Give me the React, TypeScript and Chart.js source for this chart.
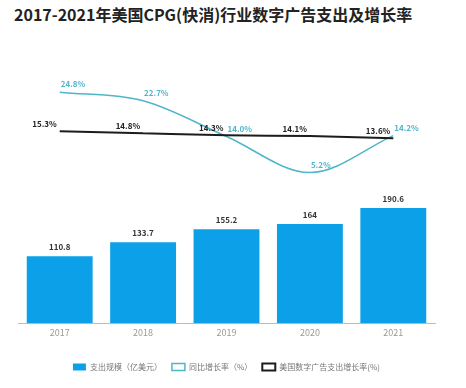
import React, { useEffect, useRef } from 'react';
import { Chart, registerables } from 'chart.js';

Chart.register(...registerables);

const years = ['2017', '2018', '2019', '2020', '2021'];
const spend = [110.8, 133.7, 155.2, 164, 190.6];
const cpgGrowth = [24.8, 22.7, 14.0, 5.2, 14.2];
const totalGrowth = [15.3, 14.8, 14.3, 14.1, 13.6];
const legendNames = ['支出规模（亿美元）', '同比增长率（%）', '美国数字广告支出增长率(%)'];

const BAR = 'rgb(12,160,232)';
const CYAN = '#4fb6c9';
const BLACK = '#1c1c1c';
const FONT = '"Noto Sans CJK SC", "Noto Sans", sans-serif';

const labelPlugin = {
  id: 'valueLabels',
  afterDatasetsDraw(chart: any) {
    const ctx = chart.ctx;
    ctx.save();
    ctx.font = `bold 8px ${FONT}`;
    ctx.textBaseline = 'bottom';
    chart.data.datasets.forEach((ds: any, i: number) => {
      const meta = chart.getDatasetMeta(i);
      meta.data.forEach((el: any, j: number) => {
        const v = ds.data[j];
        if (i === 0) {
          ctx.fillStyle = '#333';
          ctx.textAlign = 'center';
          ctx.fillText(String(v), el.x, el.y - 5);
        } else if (i === 1) {
          ctx.fillStyle = CYAN;
          ctx.textAlign = 'left';
          ctx.fillText(v.toFixed(1) + '%', el.x + 1, el.y - 4);
        } else {
          ctx.fillStyle = '#222';
          ctx.textAlign = 'right';
          ctx.fillText(v.toFixed(1) + '%', el.x - 3, el.y - 3);
        }
      });
    });
    ctx.restore();
  },
};

export default function App() {
  const ref = useRef<HTMLCanvasElement | null>(null);

  useEffect(() => {
    if (!ref.current) return;
    const chart = new Chart(ref.current, {
      type: 'bar',
      data: {
        labels: years,
        datasets: [
          {
            type: 'bar',
            label: legendNames[0],
            data: spend,
            backgroundColor: BAR,
            borderWidth: 0,
            barPercentage: 0.79,
            categoryPercentage: 1,
            yAxisID: 'y',
            order: 2,
          },
          {
            type: 'line',
            label: legendNames[1],
            data: cpgGrowth,
            borderColor: CYAN,
            backgroundColor: '#fff',
            borderWidth: 1.5,
            pointRadius: 0,
            cubicInterpolationMode: 'monotone',
            yAxisID: 'y2',
            order: 1,
          },
          {
            type: 'line',
            label: legendNames[2],
            data: totalGrowth,
            borderColor: BLACK,
            backgroundColor: '#fff',
            borderWidth: 2,
            pointRadius: 0,
            cubicInterpolationMode: 'monotone',
            yAxisID: 'y2',
            order: 0,
          },
        ] as any,
      },
      options: {
        animation: false,
        responsive: false,
        maintainAspectRatio: false,
        layout: { padding: { top: 45, left: 18, right: 31, bottom: 7 } },
        scales: {
          x: {
            grid: { display: false, drawTicks: false },
            border: { color: '#bbb' },
            ticks: { color: '#999', font: { size: 9, family: FONT }, padding: 4 },
            afterFit: (scale: any) => {
              scale.height += 11;
            },
          },
          y: { display: false, min: 0, max: 460 },
          y2: { display: false, min: -31.5, max: 36.3 },
        },
        plugins: {
          title: { display: false },
          tooltip: { enabled: false },
          legend: {
            position: 'bottom',
            labels: {
              color: '#777',
              font: { size: 8, family: FONT },
              boxWidth: 13,
              boxHeight: 7,
              padding: 10,
              sort: (a: any, b: any) => a.datasetIndex - b.datasetIndex,
            },
          },
        },
      } as any,
      plugins: [labelPlugin],
    });
    return () => chart.destroy();
  }, []);

  return (
    <div style={{ position: 'fixed', left: 0, top: 0, width: 466, height: 388, background: '#fff' }}>
      <div
        style={{
          position: 'absolute',
          left: 14,
          top: 3,
          fontFamily: FONT,
          fontWeight: 700,
          fontSize: 16,
          color: '#222',
          whiteSpace: 'nowrap',
          lineHeight: '22px',
        }}
      >
        2017-2021年美国CPG(快消)行业数字广告支出及增长率
      </div>
      <canvas ref={ref} width={466} height={388} style={{ position: 'absolute', left: 0, top: 0 }} />
    </div>
  );
}
